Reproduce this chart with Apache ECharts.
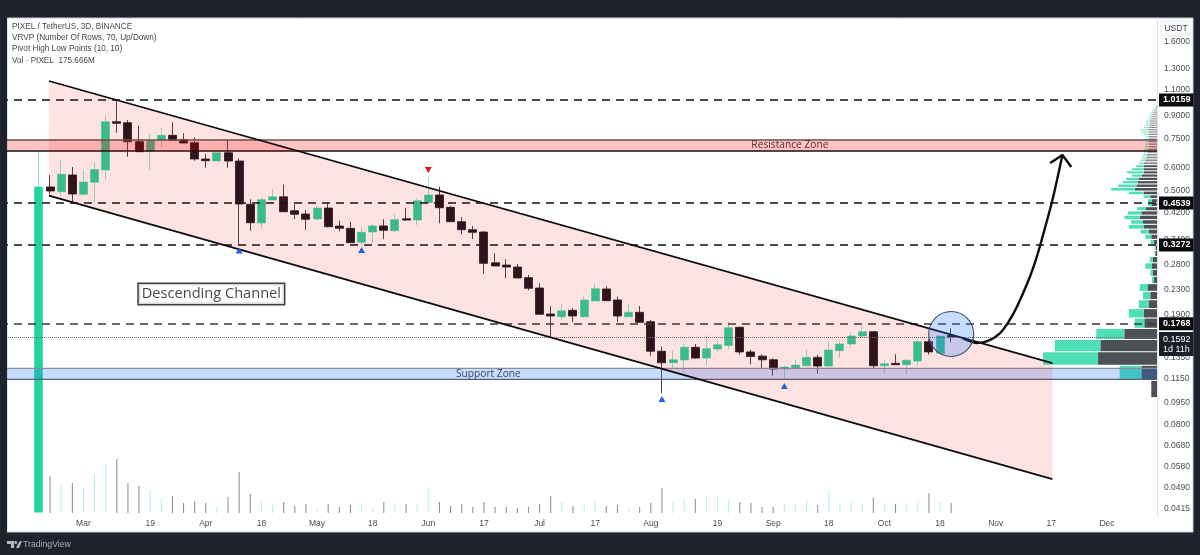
<!DOCTYPE html>
<html>
<head>
<meta charset="utf-8">
<style>html,body{margin:0;padding:0;background:#1e222d}#c{width:1200px;height:555px}</style>
<script src="https://cdn.jsdelivr.net/npm/echarts@6/dist/echarts.min.js"></script>
</head>
<body>
<div id="c"></div>
<script>
const opens=[.0405,.5146,.4960,.5654,.4860,.5338,.5877,.8573,.8505,.7332,
.6802,.7412,.7707,.7447,.7274,.6405,.6305,.6727,.6305,.4494,
.3882,.4648,.4765,.4275,.4165,.4006,.4366,.3793,.3725,.3339,
.3619,.3796,.3656,.4016,.3975,.4550,.4833,.4389,.3923,.3685,
.3619,.2846,.2795,.2752,.2533,.2336,.1906,.1866,.1962,.1866,
.2110,.2318,.2127,.1866,.1932,.1795,.1425,.1302,.1330,.1469,
.1351,.1450,.1490,.1718,.1417,.1371,.1333,.1240,.1246,.1272,
.1358,.1269,.1431,.1508,.1605,.1660,.1272,.1296,.1282,.1320,
.1535,.1402,.1611];
const closes=[.5146,.4987,.5683,.4871,.5350,.5895,.8573,.8467,.7332,.6781,
.7389,.7707,.7412,.7257,.6405,.6320,.6727,.6305,.4505,.3892,
.4660,.4765,.4241,.4156,.3997,.4366,.3773,.3725,.3329,.3610,
.3796,.3667,.3984,.3975,.4623,.4833,.4376,.3923,.3685,.3610,
.2833,.2774,.2752,.2526,.2331,.1902,.1877,.1956,.1877,.2127,
.2323,.2115,.1877,.1932,.1786,.1425,.1302,.1333,.1469,.1351,
.1453,.1500,.1712,.1417,.1367,.1333,.1240,.1259,.1279,.1358,
.1269,.1439,.1508,.1605,.1660,.1272,.1292,.1282,.1327,.1535,
.1417,.1605,.1592];
const lows=[.0405,.4871,.4807,.4550,.4807,.4550,.5477,.7867,.6523,.6765,
.5877,.7018,.7412,.7240,.6320,.5983,.6305,.5983,.3272,.3656,
.3725,.4648,.4241,.4006,.3676,.3975,.3755,.3638,.3329,.3262,
.3313,.3427,.3630,.3953,.3823,.4550,.3873,.3923,.3555,.3427,
.2612,.2774,.2521,.2526,.2293,.1902,.1592,.1809,.1791,.1852,
.2110,.2115,.1791,.1866,.1786,.1376,.1025,.1246,.1214,.1344,
.1272,.1413,.1446,.1388,.1286,.1240,.1176,.1153,.1246,.1272,
.1195,.1257,.1354,.1469,.1580,.1246,.1205,.1279,.1192,.1272,
.1388,.1402,.1528];
const highs=[.6818,.5651,.6355,.6017,.5923,.6242,.8986,1.0159,.8688,.8310,
.7788,.8142,.8533,.7829,.7587,.6660,.6727,.7430,.6440,.4674,
.4746,.5066,.5239,.4494,.4298,.4446,.4550,.3953,.3923,.3773,
.3852,.3997,.4156,.4376,.4710,.5550,.5158,.4433,.4059,.3796,
.3647,.3064,.2923,.2817,.2586,.2423,.2029,.2061,.1994,.2183,
.2410,.2367,.2183,.2072,.2029,.1819,.1477,.1431,.1516,.1508,
.1617,.1556,.1791,.1725,.1439,.1391,.1348,.1272,.1337,.1447,
.1384,.1528,.1548,.1646,.1736,.1669,.1330,.1391,.1340,.1556,
.1565,.1611,.1704];
const volumes=[null,651,510,528,458,686,880,950,528,475,405,264,299,176,211,176,123,282,722,334,
211,141,194,123,158,106,158,106,141,141,106,194,141,158,158,422,194,123,158,106,
194,106,106,88,106,158,299,194,123,141,229,123,141,88,106,176,440,194,229,246,
282,299,246,194,176,106,106,158,141,229,141,405,176,194,158,264,141,158,141,194,352,194,176];

const priceTicks=[1.6,1.3,1.1,.9,.75,.6,.5,.42,.34,.28,.23,.19,.135,.115,.095,.08,.068,.058,.049,.0415];
const dateTicks={4:'Mar',10:'19',15:'Apr',20:'18',25:'May',30:'18',35:'Jun',40:'17',45:'Jul',50:'17',55:'Aug',61:'19',66:'Sep',71:'18',76:'Oct',81:'18',86:'Nov',91:'17',96:'Dec'};
const levels=[1.0159,.4539,.3272,.1768];
const lastPrice=.1592;
const countdown='1d 11h';

const resistanceZone=[.7430,.6818];
const supportZone=[.1246,.1144];
const channelUpper=[[.9,1.1786],[91.1,.1299]];
const channelLower=[[.9,.4807],[91.1,.05246]];
const pivotLows=[[18,.3130],[29,.3144],[56,.0981],[67,.1085]];
const pivotHighs=[[35,.5877]];
const breakoutCircle=[[82,.1630]];
const forecastPath=[[83,.1580],[84.3,.1520],[85.3,.1544],[86.4,.1643],[87.2,.1805],[87.9,.2014],[88.96,.2487],[89.6,.2907],[90.13,.3400],[91.1,.4648],[92,.6608]];
const forecastHead=[[90.9,.6207],[92,.6608],[92.8,.6017]];
const channelNote=[[15.5,.2229]];

const profileFloor=.0987, profileStep=.0142;
const profileDown=[5.7,15.7,59,56.7,32.7,12.7,13.3,8.3,6.7,9,3,4,5,4,1.7,1.3,3.3,5.7,8.3,13,14,17.3,15.7,11,5,5,6.7,13.3,22.3,20,19,18.3,15,13.3,13.3,13,13,11.7,10,10,9,9,8,8,8,8,8,8,8,9,8,7,7,7,6,5,5,4,3,2,1];
const profileUp=[0,21.7,55,45.7,28,9.7,15,10,7.3,8.3,2,2.7,6.7,3.3,.7,1,3.3,6,8,15.3,12,15.3,13.3,9,4,4,6.7,15,23.7,19,15.3,12.7,10,16.7,11.7,8,5,5,5,4,4,4,4,4,3,3,3,5,8,8,5,4,4,4,3,3,3,3,2,2,1];

const UP='#22d3a0', DOWN='#171620';
const FONT='"Open Sans","Noto Sans",sans-serif';
const SMALL='"Liberation Sans",sans-serif';
const nBands=104, lead=3;
const categories=Array.from({length:nBands},(_,i)=>dateTicks[i-lead]||'');
const blank=Array(lead).fill('-');
const candleData=blank.concat(opens.map((o,i)=>[o,closes[i],lows[i],highs[i]]));
const volumeData=Array(lead).fill(null).concat(volumes.map((v,i)=>v==null?null:{value:v,itemStyle:{color:closes[i]>=opens[i]?'rgba(34,211,160,.32)':'rgba(40,36,48,.55)'}}));
const profileRows=profileDown.map((d,k)=>[d,profileUp[k],profileFloor+k*profileStep,profileFloor+(k+1)*profileStep]);

function zoneItem(zone,fill,topEdge,botEdge,label,labelC,labelColor){
  return {type:'custom',xAxisIndex:2,yAxisIndex:0,z:7,silent:true,clip:false,data:[[-3.5,zone[0]]],encode:{x:0,y:1},
    renderItem:(p,api)=>{
      const a=api.coord([-3.5,zone[0]]),b=api.coord([100.5,zone[1]]);
      const mid=api.coord([labelC,Math.sqrt(zone[0]*zone[1])]);
      return {type:'group',children:[
        {type:'rect',shape:{x:a[0],y:a[1],width:b[0]-a[0],height:b[1]-a[1]},style:{fill}},
        {type:'line',shape:{x1:a[0],y1:a[1],x2:b[0],y2:a[1]},style:{stroke:topEdge,lineWidth:1.3}},
        {type:'line',shape:{x1:a[0],y1:b[1],x2:b[0],y2:b[1]},style:{stroke:botEdge,lineWidth:1.3}},
        {type:'text',style:{text:label,x:mid[0],y:mid[1],align:'center',verticalAlign:'middle',fill:labelColor,font:'10.2px '+FONT}}
      ]};
    }};
}
function drawLine(data,width,smooth,z){
  return {type:'line',xAxisIndex:2,yAxisIndex:0,data,smooth,z:z||8,symbol:'none',silent:true,clip:false,lineStyle:{color:'#0c0c0c',width},animation:false};
}
const legendLines=['PIXEL / TetherUS, 3D, BINANCE','VRVP (Number Of Rows, 70, Up/Down)','Pivot High Low Points (10, 10)','Vol \u00b7 PIXEL  175.666M'];

const option={
  animation:false,
  backgroundColor:'#1e222d',
  grid:[{left:-1,right:43,top:18,bottom:38},{left:-1,right:43,top:400,height:113}],
  xAxis:[
    {type:'category',gridIndex:0,data:categories,axisLine:{show:false},axisTick:{show:false},splitLine:{show:false},
     axisLabel:{interval:0,margin:2,fontSize:8.5,color:'#4a4d55',fontFamily:SMALL,hideOverlap:false}},
    {type:'value',gridIndex:0,inverse:true,min:0,max:1158,show:false,splitLine:{show:false}},
    {type:'value',gridIndex:0,min:-3.5,max:100.5,show:false,splitLine:{show:false}},
    {type:'category',gridIndex:1,data:categories,show:false}
  ],
  yAxis:[
    {type:'log',logBase:10,gridIndex:0,position:'right',min:.03899,max:1.9287,splitLine:{show:false},minorTick:{show:false},minorSplitLine:{show:false},
     axisLine:{show:true,lineStyle:{color:'#dfe1e6'}},axisTick:{show:false,customValues:priceTicks},
     axisLabel:{customValues:priceTicks,margin:7,fontSize:8.5,color:'#4a4d55',fontFamily:SMALL,formatter:v=>Number(v).toFixed(4)}},
    {type:'value',gridIndex:1,min:0,max:1989,show:false,splitLine:{show:false}}
  ],
  graphic:[
    {type:'rect',z:-10,shape:{x:7,y:18,width:1186,height:514},style:{fill:'#ffffff',stroke:'#c9ccd3',lineWidth:1}},
    {type:'rect',z:100,shape:{x:0,y:0,width:7,height:555},style:{fill:'#1e222d'}},
    ...legendLines.map((t,i)=>({type:'text',z:100,x:12,y:23+i*11.1,style:{text:t,fill:'#45474e',font:'8.2px '+SMALL}})),
    {type:'rect',z:100,shape:{x:1161,y:21,width:30,height:15,r:2},style:{fill:'#f8f9fb',stroke:'#eceef2'}},
    {type:'text',z:101,x:1176,y:29,style:{text:'USDT',align:'center',verticalAlign:'middle',fill:'#45474e',font:'8.5px '+SMALL}},
    {type:'polygon',z:100,shape:{points:[[7,541],[14,541],[14,548],[11,548],[11,544],[7,544]]},style:{fill:'#b5b7bc'}},
    {type:'circle',z:100,shape:{cx:15.7,cy:542.4,r:1.5},style:{fill:'#b5b7bc'}},
    {type:'polygon',z:100,shape:{points:[[16,548],[18,544],[20,541],[22,541],[19,548]]},style:{fill:'#b5b7bc'}},
    {type:'text',z:100,x:23,y:544.5,style:{text:'TradingView',verticalAlign:'middle',fill:'#a9acb3',font:'8.7px '+SMALL}}
  ],
  series:[
    {name:'VRVP',type:'custom',xAxisIndex:1,yAxisIndex:0,z:1,silent:true,clip:false,data:profileRows,encode:{x:0,y:2},
     renderItem:(p,api)=>{
       const d=api.value(0),u=api.value(1),lo=api.value(2),hi=api.value(3);
       const t=api.coord([0,hi]),b=api.coord([0,lo]);
       const x0=t[0],x1=api.coord([d,lo])[0],x2=api.coord([d+u,lo])[0];
       const band=b[1]-t[1];
       const h=Math.max(band-1.1,0.55);
       const o=band<3?.65:1;
       return {type:'group',children:[
         {type:'rect',shape:{x:x1,y:t[1],width:x0-x1,height:h},style:{fill:'#4d5057',opacity:o}},
         {type:'rect',shape:{x:x2,y:t[1],width:x1-x2,height:h},style:{fill:'#4fdfb6',opacity:o}}
       ]};
     }},
    {name:'Vol',type:'bar',xAxisIndex:3,yAxisIndex:1,barWidth:1,z:2,silent:true,data:volumeData},
    {name:'PIXEL',type:'candlestick',xAxisIndex:0,yAxisIndex:0,z:3,barWidth:8.5,silent:true,data:candleData,
     itemStyle:{color:UP,color0:DOWN,borderColor:'rgba(34,211,160,.55)',borderColor0:'rgba(23,22,32,.8)',borderWidth:1}},
    {name:'levels',type:'line',xAxisIndex:0,yAxisIndex:0,z:9,data:[],silent:true,
     markLine:{silent:true,symbol:'none',precision:4,animation:false,
       data:[{yAxis:lastPrice,lineStyle:{color:'#6a6d73',type:'dotted',width:1},
          label:{show:true,position:'end',distance:2,offset:[0,7],formatter:()=>lastPrice.toFixed(4)+'\n'+countdown,color:'#fff',backgroundColor:'#1b1f2a',padding:[2,3,2,4],fontSize:9,lineHeight:10,fontFamily:SMALL}}]
        .concat(levels.map(v=>({yAxis:v,lineStyle:{color:v===.1768?'#35383f':'#111',type:[8,6],width:1.7},
          label:{show:true,position:'end',distance:2,formatter:()=>v.toFixed(4),color:'#fff',backgroundColor:'#0b0b0d',padding:[2,3,2,4],fontSize:9,fontWeight:'bold',fontFamily:SMALL}})))}},
    zoneItem(supportZone,'rgba(33,120,255,.25)','#8b8f98','#56617a','Support Zone',40.4,'#37456a'),
    zoneItem(resistanceZone,'rgba(255,0,0,.23)','#5a5456','#151012','Resistance Zone',67.5,'#5b2a2c'),
    {name:'channel',type:'custom',xAxisIndex:2,yAxisIndex:0,z:7,silent:true,clip:false,data:[channelUpper[0]],encode:{x:0,y:1},
     renderItem:(p,api)=>({type:'polygon',shape:{points:[api.coord(channelUpper[0]),api.coord(channelUpper[1]),api.coord(channelLower[1]),api.coord(channelLower[0])]},style:{fill:'rgba(255,0,0,.11)'}})},
    {name:'circle',type:'scatter',xAxisIndex:2,yAxisIndex:0,z:8,silent:true,data:breakoutCircle,symbol:'circle',symbolSize:45,
     itemStyle:{color:'rgba(33,120,255,.25)',borderColor:'#3b4a68',borderWidth:1.1,opacity:1}},
    drawLine(channelUpper,1.8,false),
    drawLine(channelLower,1.8,false),
    drawLine(forecastPath,2.4,0.3),
    drawLine(forecastHead,2.4,false),
    {name:'pivotLow',type:'scatter',xAxisIndex:2,yAxisIndex:0,z:9,silent:true,data:pivotLows,symbol:'triangle',symbolSize:[7,6],itemStyle:{color:'#1f62dd',opacity:1}},
    {name:'pivotHigh',type:'scatter',xAxisIndex:2,yAxisIndex:0,z:9,silent:true,data:pivotHighs,symbol:'triangle',symbolRotate:180,symbolSize:[7,6],itemStyle:{color:'#e01414',opacity:1}},
    {name:'note',type:'scatter',xAxisIndex:2,yAxisIndex:0,z:10,silent:true,data:channelNote,symbolSize:0,
     label:{show:true,position:'inside',formatter:'Descending Channel',fontSize:14.6,color:'#15151a',fontFamily:FONT,backgroundColor:'#fff',borderColor:'#111',borderWidth:1.5,padding:[3,3,2,3]}}
  ]
};
const chart=echarts.init(document.getElementById('c'),null,{renderer:'canvas'});
chart.setOption(option);
</script>
</body>
</html>
